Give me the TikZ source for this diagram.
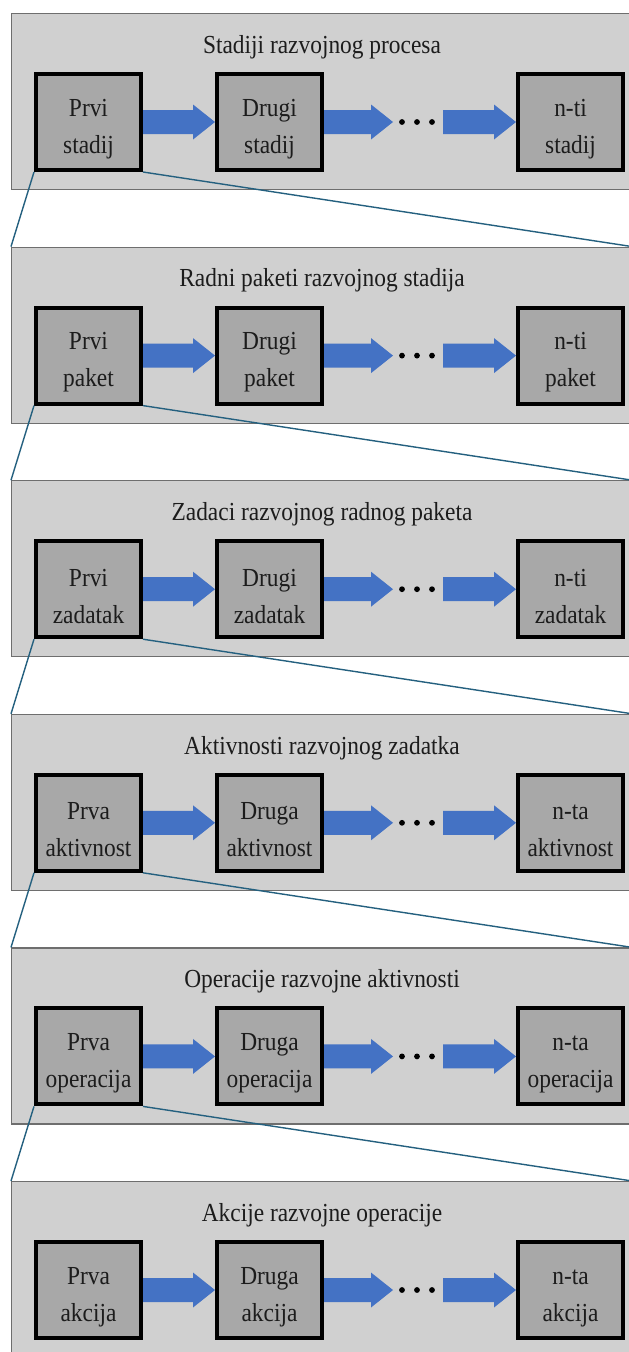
\documentclass[tikz,border=0pt]{standalone}
\usepackage{fontspec}
\setmainfont{Liberation Serif}
\newfontfamily\narrowserif[FakeStretch=0.9]{Liberation Serif}
\usetikzlibrary{calc}
\definecolor{panelfill}{HTML}{D0D0D0}
\definecolor{panelline}{HTML}{6E6E6E}
\definecolor{boxfill}{HTML}{A8A8A8}
\definecolor{arrowblue}{HTML}{4472C4}
\definecolor{connline}{HTML}{24607F}
\definecolor{textcol}{HTML}{1C1C1C}
\newcommand\myupstrut{\rule{0pt}{31pt}}
\tikzset{
  panel/.style={draw=panelline, fill=panelfill, line width=1.2pt, rectangle,
    anchor=north west, minimum width=620pt, minimum height=176pt, inner sep=0pt},
  ptitle/.style={text=textcol, font=\narrowserif\fontsize{26}{30}\selectfont, inner sep=0pt},
  stagebox/.style={draw=black, fill=boxfill, line width=4pt, rectangle,
    minimum width=105pt, minimum height=96pt, inner sep=0pt, align=center,
    text=textcol, font=\narrowserif\fontsize{26}{37}\selectfont},
  conn/.style={draw=connline, line width=1.4pt},
  dotmark/.style={fill=black}
}
\newcommand\barrow[2]{%
  \fill[arrowblue] let \p1=(#1), \p2=(#2) in
    (\x1,\y1+12pt) -- (\x2-22pt,\y1+12pt) -- (\x2-22pt,\y1+17.5pt) -- (\x2,\y1)
    -- (\x2-22pt,\y1-17.5pt) -- (\x2-22pt,\y1-12pt) -- (\x1,\y1-12pt) -- cycle;}
\newcommand\panelrow[5]{%
  \pgfmathsetmacro\myTop{13+233.6*#1}
  \node[panel] (p#1) at (11,\myTop) {};
  \node[ptitle] (t#1) at (322,\myTop+34) {#2};
  \node[stagebox] (a#1) at (88.5,\myTop+109) {\myupstrut #3};
  \node[stagebox] (b#1) at (269.5,\myTop+109) {\myupstrut #4};
  \node[stagebox] (c#1) at (570.5,\myTop+109) {\myupstrut #5};
  \coordinate (d#1) at (393,\myTop+109);
  \coordinate (e#1) at (443,\myTop+109);
  \barrow{a#1.east}{b#1.west}
  \barrow{b#1.east}{d#1}
  \barrow{e#1}{c#1.west}
  \fill[dotmark] (402,\myTop+109) circle (2.9pt);
  \fill[dotmark] (417,\myTop+109) circle (2.9pt);
  \fill[dotmark] (432,\myTop+109) circle (2.9pt);
}
\begin{document}
\begin{tikzpicture}[x=1pt,y=-1pt]
\fill[white] (0,0) rectangle (629,1352);
\useasboundingbox (0,0) rectangle (629,1352);
\panelrow{0}{Stadiji razvojnog procesa}{Prvi\\stadij}{Drugi\\stadij}{n-ti\\stadij}
\panelrow{1}{Radni paketi razvojnog stadija}{Prvi\\paket}{Drugi\\paket}{n-ti\\paket}
\panelrow{2}{Zadaci razvojnog radnog paketa}{Prvi\\zadatak}{Drugi\\zadatak}{n-ti\\zadatak}
\panelrow{3}{Aktivnosti razvojnog zadatka}{Prva\\aktivnost}{Druga\\aktivnost}{n-ta\\aktivnost}
\panelrow{4}{Operacije razvojne aktivnosti}{Prva\\operacija}{Druga\\operacija}{n-ta\\operacija}
\panelrow{5}{Akcije razvojne operacije}{Prva\\akcija}{Druga\\akcija}{n-ta\\akcija}
\foreach \i/\j in {0/1,1/2,2/3,3/4,4/5}{
  \draw[conn] (a\i.south west) -- (p\j.north west);
  \draw[conn] (a\i.south east) -- (p\j.north east);
}
\end{tikzpicture}
\end{document}
